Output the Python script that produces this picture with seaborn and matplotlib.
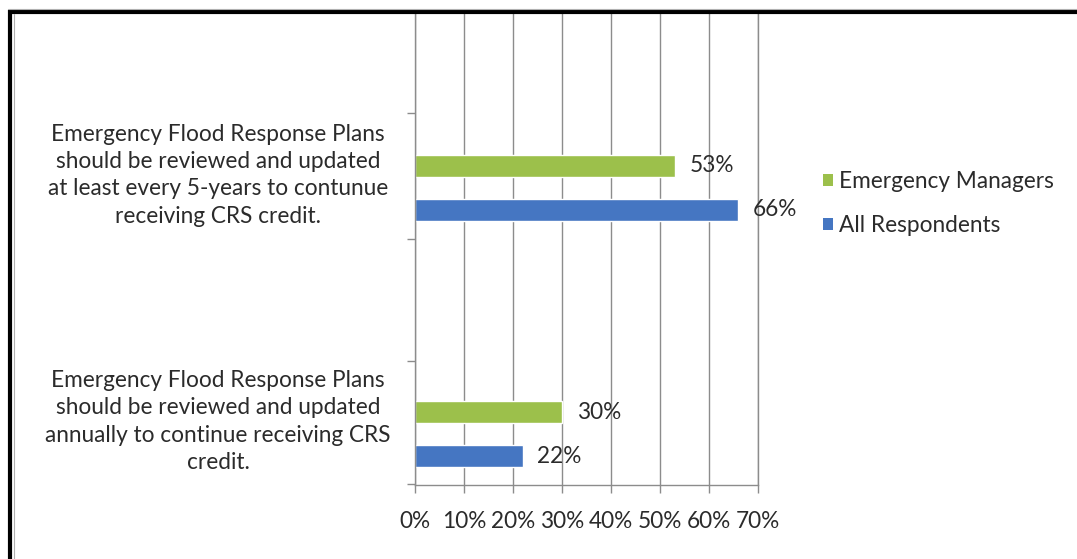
import matplotlib
matplotlib.use("Agg")
import matplotlib.pyplot as plt
import matplotlib.transforms as mtransforms
from matplotlib.patches import Patch, Rectangle
from matplotlib.lines import Line2D
import pandas as pd
import seaborn as sns

# Survey statements, respondent groups and share agreeing (%)
statements = [
    "Emergency Flood Response Plans\nshould be reviewed and updated\nat least every 5-years to contunue\nreceiving CRS credit.",
    "Emergency Flood Response Plans\nshould be reviewed and updated\nannually to continue receiving CRS\ncredit.",
]
groups = ["Emergency Managers", "All Respondents"]
emergency_managers = [53, 30]
all_respondents = [66, 22]
x_ticks = [0, 10, 20, 30, 40, 50, 60, 70]
x_tick_labels = [f"{v}%" for v in x_ticks]

colors = {"Emergency Managers": "#9CC04B", "All Respondents": "#4576C2"}
text_color = "#2b2b2b"
grid_color = "#8c8c8c"
FONT = "Lato"
FS = 16.3

sns.set_theme(style="white")
plt.rcParams["font.family"] = [FONT, "DejaVu Sans"]

df = pd.DataFrame({
    "statement": statements * 2,
    "group": [groups[0]] * 2 + [groups[1]] * 2,
    "pct": emergency_managers + all_respondents,
})

W, H = 1077, 559
fig = plt.figure(figsize=(W / 100, H / 100), dpi=100)
ax = fig.add_axes([415 / W, (H - 485) / H, 343 / W, 472 / H])

sns.barplot(
    data=df, x="pct", y="statement", hue="group", hue_order=groups,
    palette=colors, orient="h", width=0.358, gap=0.5, dodge=True,
    errorbar=None, ax=ax, legend=False, saturation=1,
)

ax.set_xlim(0, 70)
ax.set_ylim(1.207, -0.711)
ax.set_xticks(x_ticks)
ax.set_xticklabels(x_tick_labels, fontsize=FS, color=text_color)
ax.set_xlabel("")
ax.set_ylabel("")

# Category axis: boundary tick marks only, labels drawn as centred text blocks
ax.set_yticks([-0.305, 0.207, 0.703, 1.203])
ax.set_yticklabels([])
ax.tick_params(axis="y", direction="out", length=6, width=1, color=grid_color, left=True)
ax.tick_params(axis="x", direction="out", length=6, width=1, color=grid_color,
               bottom=True, pad=13)

ax.grid(axis="x", color=grid_color, linewidth=1)
ax.grid(axis="y", visible=False)
ax.set_axisbelow(True)
for side in ["top", "right"]:
    ax.spines[side].set_visible(False)
for side in ["left", "bottom"]:
    ax.spines[side].set_color(grid_color)
    ax.spines[side].set_linewidth(1)
ax.axvline(70, color=grid_color, linewidth=1, clip_on=False, zorder=0)

# Value labels
for container in ax.containers:
    ax.bar_label(container, labels=[f"{v:.0f}%" for v in container.datavalues],
                 padding=10.5, fontsize=FS, color=text_color)

# Statement labels to the left of the axis
trans = mtransforms.blended_transform_factory(fig.transFigure, ax.transData)
for i, s in enumerate(statements):
    ax.text(218 / W, i - 0.051, s, transform=trans, ha="center", va="center",
            multialignment="center", fontsize=FS, color=text_color,
            linespacing=1.36, clip_on=False)

# Legend
handles = [Patch(facecolor=colors[g], edgecolor="none", label=g) for g in groups]
fig.legend(handles=handles, loc="center left", bbox_to_anchor=(803 / W, (H - 203.5) / H),
           frameon=False, fontsize=FS, handlelength=0.42, handleheight=0.42,
           handletextpad=0.28, labelspacing=1.02, labelcolor=text_color)

# Page frame around the chart
fig.add_artist(Rectangle((10 / W, -0.1), 1.2, (H - 12) / H + 0.1, transform=fig.transFigure,
                         fill=False, edgecolor="black", linewidth=3.0))
fig.add_artist(Line2D([14 / W, 14 / W], [0, (H - 14) / H], transform=fig.transFigure,
                      color="#b0b0b0", linewidth=0.8))
fig.add_artist(Line2D([8 / W, 1], [(H - 9) / H, (H - 9) / H], transform=fig.transFigure,
                      color="#b0b0b0", linewidth=0.8))

fig.savefig("out.png", dpi=100, facecolor="white")
